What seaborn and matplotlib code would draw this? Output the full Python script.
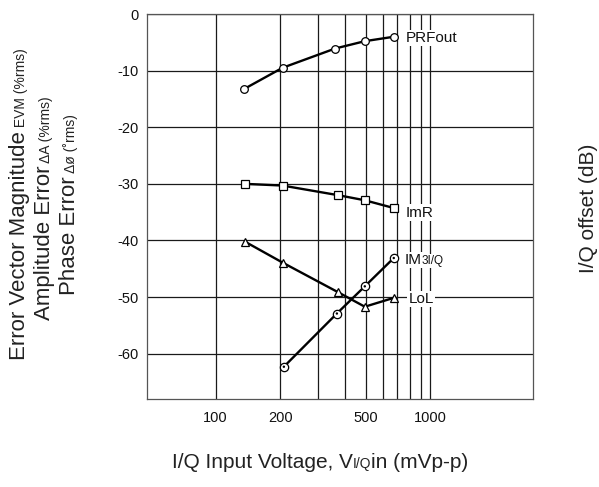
# plot.py

# LIBRARIES
import matplotlib
matplotlib.use('Agg')
import matplotlib.pyplot as plt
import seaborn as sns


# DATA
prf_x = [135, 205, 360, 495, 680]
prf_y = [-13.3, -9.5, -6.1, -4.8, -4.0]

imr_x = [137, 205, 372, 495, 680]
imr_y = [-30.0, -30.3, -32.0, -32.9, -34.3]

lol_x = [137, 205, 370, 495, 680]
lol_y = [-40.2, -43.9, -49.1, -51.7, -50.1]

im3_x = [208, 367, 495, 675]
im3_y = [-62.3, -52.9, -48.1, -43.1]

x_grid = [100, 200, 300, 400, 500, 600, 700, 800, 900, 1000]
x_labels = ['100', '200', '', '', '500', '', '', '', '', '1000']
y_ticks = [0, -10, -20, -30, -40, -50, -60]


# STYLE
sns.set_style('white')
plt.rcParams['font.family'] = ['Liberation Sans', 'DejaVu Sans']
plt.rcParams['axes.unicode_minus'] = False

W, H = 599, 487
fig = plt.figure(figsize=(W / 100, H / 100), dpi=100)
ax = fig.add_axes([147 / W, 1 - 399 / H, (533 - 147) / W, (399 - 14) / H])

ax.set_xscale('log')
ax.set_xlim(48, 3000)
ax.set_ylim(-68, 0)
ax.minorticks_off()
ax.set_xticks(x_grid, labels=x_labels)
ax.set_yticks(y_ticks)
ax.tick_params(length=0, labelsize=10.5, colors='#111')
ax.tick_params(axis='x', pad=9)
ax.tick_params(axis='y', pad=6)
ax.grid(True, color='#1a1a1a', lw=0.9)
ax.set_axisbelow(True)
for s in ax.spines.values():
    s.set_color('#555')
    s.set_linewidth(0.9)


# SERIES
line_kw = dict(color='black', lw=1.7, markeredgecolor='black',
               markerfacecolor='white', markeredgewidth=0.9,
               estimator=None, sort=False, zorder=3)

sns.lineplot(x=prf_x, y=prf_y, ax=ax, marker='o', markersize=5.5, **line_kw)
sns.lineplot(x=imr_x, y=imr_y, ax=ax, marker='s', markersize=5.2, **line_kw)
sns.lineplot(x=lol_x, y=lol_y, ax=ax, marker='^', markersize=6, **line_kw)
sns.lineplot(x=im3_x, y=im3_y, ax=ax, marker='o', markersize=6, **line_kw)
sns.scatterplot(x=im3_x, y=im3_y, ax=ax, s=3, color='black',
                edgecolor='none', zorder=4)


# SERIES LABELS
box = dict(facecolor='white', edgecolor='none', pad=0.8)
lab_kw = dict(textcoords='offset points', ha='left', va='baseline',
              fontsize=11, color='#111', bbox=box, zorder=5)

ax.annotate('PRFout', xy=(prf_x[-1], prf_y[-1]), xytext=(8, -4), **lab_kw)
ax.annotate('ImR', xy=(imr_x[-1], imr_y[-1]), xytext=(8, -6), **lab_kw)
ax.annotate('LoL', xy=(lol_x[-1], lol_y[-1]), xytext=(10, -4), **lab_kw)
t = ax.annotate('IM', xy=(im3_x[-1], im3_y[-1]), xytext=(8, -4), **lab_kw)
ax.annotate('3I/Q', xy=(1, im3_y[-1]), xycoords=(t, 'data'),
            xytext=(0, -4), textcoords='offset points', ha='left',
            va='baseline', fontsize=8.5, color='#111', bbox=box, zorder=5)


# AXIS LABELS (mixed font sizes, chained pieces)
def chain(parts, x0, y0, rotation):
    prev = None
    for text, size in parts:
        kw = dict(fontsize=size, color='#222', rotation=rotation,
                  rotation_mode='anchor', ha='left', va='baseline',
                  annotation_clip=False)
        if prev is None:
            prev = ax.annotate(text, xy=(x0, H - y0),
                               xycoords='figure pixels', **kw)
        elif rotation == 90:
            prev = ax.annotate(text, xy=(x0, 1),
                               xycoords=('figure pixels', prev), **kw)
        else:
            prev = ax.annotate(text, xy=(1, H - y0),
                               xycoords=(prev, 'figure pixels'), **kw)


chain([('Error Vector Magnitude', 16), (' EVM (%rms)', 10)], 25, 360, 90)
chain([('Amplitude Error', 16), (' \u0394A (%rms)', 10)], 50, 320, 90)
chain([('Phase Error', 16), (' \u0394\u00f8 (\u02darms)', 10)], 75, 295, 90)
chain([('I/Q Input Voltage, V', 15), ('I/Q', 10),
       ('in (mVp-p)', 15)], 172, 468, 0)

ax.annotate('I/Q offset (dB)', xy=(589, H - 208), xycoords='figure pixels',
            rotation=90, ha='center', va='center', fontsize=15,
            color='#222', annotation_clip=False)

plt.savefig('out.png', dpi=100)
